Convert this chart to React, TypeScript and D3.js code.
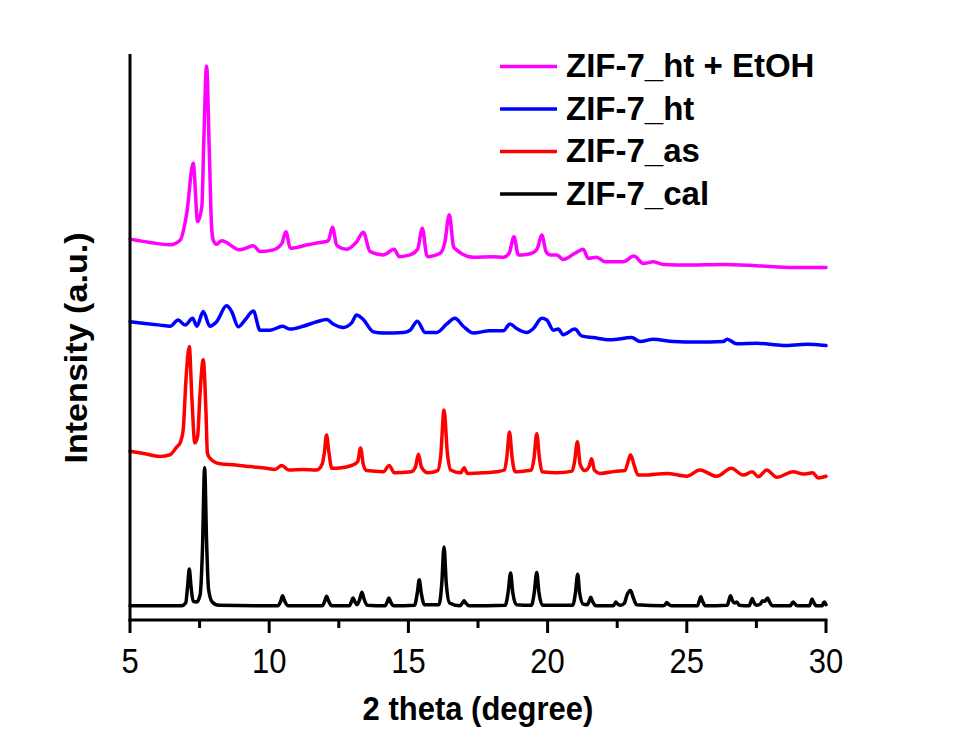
import React from "react";
import * as d3 from "d3";

// ---- data (2θ in degrees, intensity in a.u., patterns offset vertically as in the figure) ----
const seriesNames = ["ZIF-7_ht + EtOH", "ZIF-7_ht", "ZIF-7_as", "ZIF-7_cal"];
const seriesColors = ["#FF00FF", "#0000FF", "#FF0000", "#000000"];
const xTicks = [5, 10, 15, 20, 25, 30];
const xMinorTicks = [7.5, 12.5, 17.5, 22.5, 27.5];

const htEtohPattern: [number, number][] = [
  [5.0, 67.3], [5.72, 66.7], [6.44, 66.3], [6.8, 67.1], [7.04, 71.9], [7.27, 80.7], [7.43, 70.4],
  [7.58, 73.0], [7.65, 84.5], [7.75, 97.9], [7.85, 82.5], [7.93, 69.5], [7.99, 67.1], [8.11, 66.4],
  [8.29, 67.0], [8.95, 65.4], [9.43, 66.1], [9.67, 65.1], [10.15, 65.4], [10.45, 66.5], [10.6, 68.6],
  [10.75, 65.8], [10.81, 65.7], [11.3, 66.2], [11.71, 66.6], [12.12, 67.0], [12.27, 69.4], [12.42, 66.3],
  [12.48, 66.0], [12.78, 65.5], [13.14, 66.8], [13.38, 68.5], [13.62, 65.1], [14.1, 64.5], [14.49, 65.5],
  [14.67, 64.2], [15.06, 64.5], [15.33, 65.5], [15.5, 69.2], [15.66, 64.4], [15.72, 64.2], [16.14, 64.8],
  [16.3, 66.5], [16.47, 71.6], [16.62, 66.0], [16.73, 65.4], [17.33, 64.1], [18.05, 64.2], [18.41, 64.1],
  [18.62, 64.8], [18.79, 67.7], [18.95, 64.5], [19.07, 64.5], [19.43, 64.8], [19.62, 65.5], [19.79, 68.0],
  [19.95, 65.0], [20.09, 64.5], [20.33, 64.5], [20.56, 63.7], [20.98, 64.8], [21.28, 65.5], [21.46, 63.9],
  [21.76, 64.1], [22.06, 63.3], [22.72, 63.3], [23.1, 64.3], [23.44, 63.0], [23.8, 63.3], [24.16, 62.8],
  [25.11, 62.7], [26.31, 62.8], [27.51, 62.6], [28.83, 62.3], [30.0, 62.3],
];

const htPattern: [number, number][] = [
  [5.0, 52.7], [6.08, 52.1], [6.44, 51.9], [6.73, 53.0], [6.98, 52.1], [7.25, 53.3], [7.4, 51.9],
  [7.63, 54.5], [7.87, 51.9], [8.11, 52.7], [8.47, 55.5], [8.65, 54.5], [8.89, 51.8], [9.13, 53.0],
  [9.43, 54.6], [9.67, 51.2], [10.03, 51.2], [10.48, 51.9], [10.75, 51.4], [11.22, 51.9], [11.71, 52.7],
  [12.07, 53.1], [12.3, 52.3], [12.66, 51.7], [12.96, 52.5], [13.14, 53.9], [13.38, 53.1], [13.74, 50.9],
  [14.1, 50.7], [14.82, 50.8], [15.06, 51.2], [15.32, 52.8], [15.6, 50.8], [16.02, 50.8], [16.38, 52.3],
  [16.67, 53.3], [16.97, 51.9], [17.33, 50.7], [17.93, 51.1], [18.41, 51.1], [18.65, 52.3], [18.89, 51.5],
  [19.25, 50.8], [19.49, 51.5], [19.79, 53.3], [19.97, 53.0], [20.21, 51.2], [20.38, 51.4], [20.56, 50.4],
  [20.98, 51.4], [21.22, 50.2], [21.64, 49.9], [22.24, 49.5], [23.02, 49.9], [23.32, 49.2], [23.8, 49.6],
  [24.52, 49.2], [25.36, 49.1], [26.31, 49.2], [26.45, 49.6], [26.79, 48.8], [27.51, 48.9], [28.47, 48.5],
  [29.31, 48.7], [30.0, 48.5],
];

const asPattern: [number, number][] = [
  [5.0, 29.8], [5.5, 29.4], [6.08, 28.9], [6.44, 29.2], [6.68, 30.6], [6.8, 31.3], [6.91, 33.6],
  [7.01, 42.4], [7.13, 48.3], [7.22, 39.5], [7.33, 31.3], [7.43, 32.5], [7.51, 39.5], [7.63, 46.0],
  [7.73, 36.6], [7.78, 29.5], [7.87, 28.6], [8.23, 27.6], [8.8, 27.4], [9.31, 27.1], [9.9, 26.8],
  [10.2, 26.6], [10.45, 27.3], [10.7, 26.5], [11.2, 26.6], [11.71, 26.5], [11.9, 27.5], [11.98, 29.5],
  [12.06, 32.7], [12.14, 29.8], [12.25, 26.8], [12.6, 26.9], [13.01, 27.4], [13.18, 28.0], [13.28, 30.4],
  [13.38, 27.5], [13.5, 26.4], [14.1, 26.2], [14.31, 27.3], [14.5, 26.0], [15.1, 26.2], [15.25, 27.0],
  [15.36, 29.3], [15.47, 27.0], [15.7, 26.0], [16.05, 26.4], [16.16, 29.0], [16.28, 37.1], [16.4, 29.5],
  [16.52, 26.5], [16.88, 26.0], [17.0, 26.9], [17.12, 25.9], [17.69, 26.0], [18.17, 26.2], [18.45, 26.5],
  [18.53, 28.5], [18.63, 33.2], [18.73, 28.5], [18.83, 26.2], [19.12, 26.3], [19.42, 26.5], [19.51, 28.5],
  [19.61, 32.9], [19.71, 28.5], [19.8, 26.2], [20.33, 26.0], [20.88, 26.3], [20.97, 28.0], [21.07, 31.5],
  [21.17, 27.5], [21.34, 26.4], [21.48, 27.0], [21.58, 28.5], [21.68, 26.5], [21.88, 25.9], [22.46, 26.3],
  [22.78, 26.4], [22.88, 27.8], [22.98, 29.2], [23.1, 27.5], [23.25, 25.6], [23.44, 25.6], [24.28, 25.9],
  [25.0, 25.4], [25.47, 26.5], [26.07, 25.4], [26.6, 26.8], [27.03, 25.6], [27.35, 26.2], [27.57, 25.3],
  [27.87, 26.5], [28.23, 25.2], [28.82, 26.2], [29.18, 25.8], [29.52, 26.0], [29.72, 25.1], [30.0, 25.4],
];

const calPattern: [number, number][] = [
  [5.0, 2.5], [6.85, 2.5], [7.0, 3.0], [7.07, 6.0], [7.13, 9.0], [7.19, 6.0], [7.27, 3.3], [7.4, 3.2],
  [7.52, 4.5], [7.6, 12.0], [7.68, 26.9], [7.75, 14.0], [7.82, 5.5], [7.95, 3.2], [8.2, 2.6], [10.3, 2.5],
  [10.42, 3.4], [10.48, 4.3], [10.55, 3.4], [10.68, 2.5], [11.9, 2.5], [12.0, 3.4], [12.06, 4.2], [12.13, 3.4],
  [12.25, 2.5], [12.88, 2.5], [12.96, 3.3], [13.01, 3.9], [13.08, 3.2], [13.16, 2.7], [13.26, 3.8], [13.33, 4.9],
  [13.4, 3.8], [13.52, 2.6], [14.15, 2.5], [14.24, 3.2], [14.3, 3.9], [14.36, 3.2], [14.48, 2.5], [15.22, 2.6],
  [15.32, 4.8], [15.39, 7.1], [15.46, 4.8], [15.58, 2.7], [16.1, 2.7], [16.2, 6.5], [16.28, 12.9], [16.36, 6.5],
  [16.48, 3.0], [16.85, 2.5], [16.94, 3.0], [17.0, 3.4], [17.06, 3.0], [17.18, 2.5], [18.48, 2.6], [18.58, 4.8],
  [18.67, 8.3], [18.75, 4.8], [18.88, 2.7], [19.42, 2.6], [19.52, 4.8], [19.61, 8.4], [19.69, 4.8], [19.82, 2.6],
  [20.9, 2.6], [21.0, 4.8], [21.08, 8.1], [21.15, 4.8], [21.28, 2.8], [21.42, 2.7], [21.5, 3.4], [21.55, 4.0],
  [21.61, 3.3], [21.75, 2.5], [22.35, 2.5], [22.42, 2.9], [22.45, 3.2], [22.5, 2.9], [22.62, 2.6], [22.76, 3.0],
  [22.85, 4.4], [22.98, 5.2], [23.06, 4.2], [23.2, 2.7], [24.15, 2.5], [24.24, 2.8], [24.28, 3.1], [24.34, 2.8],
  [24.45, 2.5], [25.38, 2.5], [25.45, 3.4], [25.5, 4.1], [25.56, 3.4], [25.66, 2.5], [26.45, 2.6], [26.52, 3.6],
  [26.57, 4.3], [26.64, 3.4], [26.72, 3.0], [26.8, 3.2], [26.88, 2.6], [27.24, 2.5], [27.3, 3.2], [27.35, 3.8],
  [27.41, 3.1], [27.52, 2.6], [27.64, 2.8], [27.72, 3.4], [27.8, 3.3], [27.9, 3.9], [27.97, 3.2], [28.08, 2.5],
  [28.72, 2.5], [28.78, 3.0], [28.82, 3.2], [28.87, 2.9], [28.98, 2.5], [29.4, 2.5], [29.46, 3.2], [29.5, 3.7],
  [29.55, 3.2], [29.66, 2.5], [29.86, 2.5], [29.91, 3.0], [29.94, 3.2], [29.98, 2.9], [30.0, 2.7],
];

const patterns = [htEtohPattern, htPattern, asPattern, calPattern];

const W = 973;
const H = 751;
const FONT = "'Liberation Sans', Arial, Helvetica, sans-serif";

export default function App() {
  const x = d3.scaleLinear().domain([5, 30]).range([130, 826]);
  const y = d3.scaleLinear().domain([0, 100]).range([620, 54]);
  const line = d3
    .line<[number, number]>()
    .x((d) => x(d[0]))
    .y((d) => y(d[1]))
    .curve(d3.curveMonotoneX);

  const axisY = y(0);
  const legendX0 = 500;
  const legendX1 = 557;
  const legendY0 = 66.5;
  const legendStep = 42.5;

  return (
    <svg
      width={W}
      height={H}
      style={{ position: "absolute", left: 0, top: 0, background: "#fff" }}
      fontFamily={FONT}
    >
      <rect x={0} y={0} width={W} height={H} fill="#fff" />

      {/* traces, drawn bottom first */}
      {patterns
        .map((p, i) => ({ p, i }))
        .reverse()
        .map(({ p, i }) => (
          <path
            key={seriesNames[i]}
            d={line(p) || ""}
            fill="none"
            stroke={seriesColors[i]}
            strokeWidth={3.5}
            strokeLinejoin="round"
            strokeLinecap="round"
          />
        ))}

      {/* axes */}
      <line x1={130} x2={130} y1={54} y2={axisY + 1.5} stroke="#000" strokeWidth={3} />
      <line x1={128.5} x2={827.5} y1={axisY} y2={axisY} stroke="#000" strokeWidth={3} />
      {xTicks.map((t) => (
        <line key={"M" + t} x1={x(t)} x2={x(t)} y1={axisY} y2={axisY + 13} stroke="#000" strokeWidth={3} />
      ))}
      {xMinorTicks.map((t) => (
        <line key={"m" + t} x1={x(t)} x2={x(t)} y1={axisY} y2={axisY + 8} stroke="#000" strokeWidth={3} />
      ))}
      {xTicks.map((t) => (
        <text
          key={"t" + t}
          transform={`translate(${x(t)},673) scale(1,1.12)`}
          textAnchor="middle"
          fontSize={31}
          fill="#000"
        >
          {t}
        </text>
      ))}

      <text
        transform="translate(478,720) scale(1,1.1)"
        textAnchor="middle"
        fontSize={31}
        fontWeight="bold"
        fill="#000"
      >
        2 theta (degree)
      </text>
      <text
        transform={`translate(87,348) rotate(-90) scale(1.1,1)`}
        textAnchor="middle"
        fontSize={31}
        fontWeight="bold"
        fill="#000"
      >
        Intensity (a.u.)
      </text>

      {/* legend */}
      {seriesNames.map((n, i) => (
        <g key={"lg" + n}>
          <line
            x1={legendX0}
            x2={legendX1}
            y1={legendY0 + i * legendStep}
            y2={legendY0 + i * legendStep}
            stroke={seriesColors[i]}
            strokeWidth={3.5}
          />
          <text
            x={566}
            y={legendY0 + i * legendStep + 10.5}
            fontSize={33}
            fontWeight="bold"
            fill="#000"
          >
            {n}
          </text>
        </g>
      ))}
    </svg>
  );
}
